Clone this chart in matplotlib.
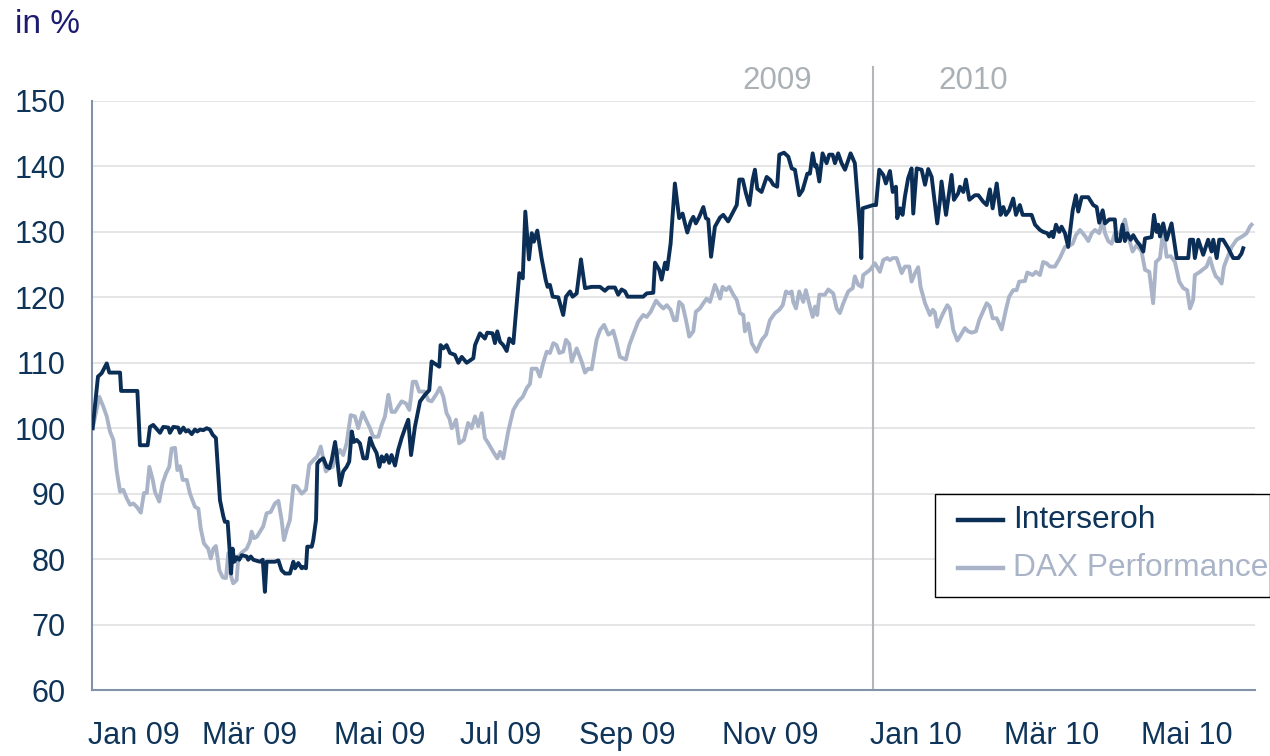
import matplotlib
matplotlib.use("Agg")
import matplotlib.pyplot as plt
from matplotlib.patches import Rectangle

plt.rcParams['font.family'] = ['Liberation Sans', 'DejaVu Sans']

# x = days since 1 Jan 2009, y = indexed performance in %
inter_days = [0.3, 2.8, 4.5, 6.9, 8.1, 13.1, 13.6, 21.2, 22.4, 26.0, 27.1, 28.6, 31.8, 33.3,
              35.7, 36.4, 38.0, 40.3, 41.1, 42.7, 43.9, 45.0, 46.6, 48.1, 49.2, 50.5, 52.0,
              53.6, 55.1, 56.4, 57.9, 59.8, 61.4, 62.1, 63.4, 64.2, 65.0, 65.7, 66.5, 67.6,
              68.8, 70.0, 72.3, 73.0, 74.2, 75.4, 78.5, 79.8, 80.8, 81.6, 85.5, 87.1, 88.6,
              90.2, 92.5, 94.1, 94.9, 96.4, 98.0, 98.7, 100.0, 100.6, 102.7, 103.4, 104.7,
              105.3, 106.5, 108.1, 109.7, 110.9, 112.0, 113.6, 114.3, 115.9, 117.4, 119.0,
              120.2, 121.4, 122.4, 123.7, 125.2, 126.8, 128.4, 129.9, 131.4, 133.0, 134.3,
              135.4, 136.4, 137.7, 138.9, 140.0, 141.6, 143.1, 144.7, 146.3, 147.8, 149.1,
              150.9, 153.3, 155.6, 157.6, 158.7, 162.3, 162.9, 164.2, 165.7, 167.3, 169.6,
              171.2, 172.8, 175.1, 178.2, 179.0, 181.3, 183.6, 184.7, 187.2, 188.3, 189.4,
              190.7, 192.2, 193.8, 195.0, 196.9, 199.7, 201.3, 202.5, 204.2, 205.5, 206.5,
              208.1, 210.1, 212.0, 212.9, 214.0, 215.3, 217.9, 220.2, 221.5, 223.4, 224.6,
              226.5, 228.5, 230.4, 233.5, 237.4, 239.7, 241.3, 244.4, 245.9, 247.5, 249.1,
              250.3, 257.6, 259.2, 262.3, 263.1, 265.1, 266.2, 267.8, 268.8, 270.4, 271.4,
              272.4, 274.4, 276.0, 277.1, 278.2, 279.8, 281.0, 282.2, 283.8, 285.7, 286.9,
              288.0, 289.3, 291.1, 293.5, 295.0, 297.3, 299.7, 301.3, 302.5, 304.1, 305.6,
              307.2, 308.7, 309.8, 310.9, 312.9, 315.3, 317.1, 318.4, 320.2, 321.2, 323.4,
              325.4, 327.0, 328.5, 330.5, 332.1, 334.3, 335.5, 336.8, 337.9, 338.6, 339.9,
              341.4, 343.3, 344.5, 346.1, 347.2, 348.7, 350.3, 351.9, 354.5, 356.5, 358.9,
              359.5, 360.1, 365.1, 366.4, 367.9, 369.8, 371.0, 372.9, 374.2, 375.7, 376.3,
              377.6, 378.8, 379.9, 381.4, 383.0, 383.8, 385.4, 387.7, 389.3, 390.8, 392.4,
              395.0, 396.3, 397.0, 399.1, 401.7, 402.8, 404.8, 405.6, 407.2, 408.4, 410.0,
              412.6, 414.2, 416.5, 418.1, 419.6, 420.9, 422.8, 424.6, 425.9, 427.1, 428.6,
              430.5, 431.8, 433.6, 434.9, 439.1, 440.7, 443.0, 444.5, 446.4, 447.3, 448.5,
              449.2, 450.5, 452.0, 453.1, 454.7, 456.2, 458.3, 459.8, 460.9, 462.5, 465.6,
              467.9, 469.5, 470.7, 472.3, 473.4, 475.4, 478.0, 478.8, 480.4, 481.6, 482.7,
              483.8, 485.4, 486.6, 488.2, 489.7, 491.3, 492.1, 495.2, 496.3, 497.5, 498.3,
              499.1, 500.6, 502.2, 504.5, 506.9, 512.3, 513.1, 514.6, 515.4, 517.0, 519.3,
              521.6, 523.2, 524.0, 525.6, 526.8, 528.6, 531.0, 533.3, 535.7, 537.2, 538.0]
inter_vals = [100.0, 107.9, 108.4, 109.9, 108.5, 108.5, 105.7, 105.7, 97.4, 97.4, 100.2, 100.5,
              99.3, 100.2, 100.1, 99.3, 100.2, 100.1, 99.3, 100.1, 99.5, 99.7, 99.1, 99.8, 99.5,
              99.8, 99.7, 100.0, 99.8, 99.0, 98.5, 89.0, 86.5, 85.7, 85.7, 81.9, 77.8, 81.6,
              79.6, 80.3, 79.9, 80.6, 80.4, 79.9, 80.4, 79.9, 79.6, 79.9, 75.0, 79.6, 79.6,
              79.8, 78.3, 77.8, 77.8, 79.6, 78.6, 79.4, 78.6, 78.8, 78.6, 81.9, 81.9, 82.9,
              86.0, 94.6, 95.1, 95.4, 94.1, 93.9, 95.1, 97.9, 96.2, 91.3, 93.4, 94.1, 94.9,
              99.5, 97.9, 98.2, 97.7, 95.4, 95.4, 98.5, 97.2, 96.2, 94.1, 95.7, 94.9, 95.9,
              94.7, 95.9, 94.3, 96.7, 98.5, 100.0, 101.3, 95.9, 100.2, 104.1, 105.1, 105.8,
              110.2, 109.4, 112.7, 112.2, 112.7, 111.5, 111.2, 110.0, 110.9, 110.0, 110.7,
              112.7, 114.5, 113.7, 114.6, 114.5, 113.0, 114.8, 113.2, 112.7, 111.8, 113.7,
              113.0, 123.7, 122.9, 133.1, 125.8, 129.8, 128.5, 130.2, 126.0, 122.7, 121.6,
              121.9, 120.1, 120.0, 117.3, 120.1, 120.9, 120.1, 120.6, 125.8, 121.4, 121.6,
              121.6, 121.0, 121.5, 121.5, 120.4, 121.2, 120.9, 120.1, 120.1, 120.6, 120.7,
              125.3, 124.2, 122.7, 125.3, 124.3, 128.2, 132.8, 137.4, 132.1, 132.8, 131.3,
              129.9, 131.6, 132.3, 131.3, 132.3, 133.8, 132.1, 131.9, 126.2, 130.8, 132.2,
              132.6, 131.6, 133.1, 134.1, 138.0, 138.0, 135.9, 134.1, 137.9, 139.5, 136.6,
              136.1, 138.4, 137.9, 137.2, 136.9, 141.8, 142.1, 141.5, 139.7, 139.5, 135.6,
              136.4, 138.9, 138.9, 142.0, 140.0, 140.2, 137.7, 142.0, 140.5, 141.8, 141.8,
              140.5, 142.0, 140.5, 139.5, 142.0, 140.5, 130.5, 126.0, 133.6, 134.1, 134.1,
              139.5, 138.7, 137.4, 139.3, 136.1, 136.9, 132.1, 133.6, 132.6, 135.4, 138.2,
              139.7, 132.8, 139.7, 139.5, 137.2, 139.6, 138.4, 131.3, 134.9, 137.7, 132.6,
              138.7, 134.9, 135.9, 136.9, 136.1, 138.0, 134.9, 135.6, 135.6, 134.6, 134.1,
              136.5, 133.6, 137.4, 132.6, 133.8, 132.6, 133.3, 135.1, 132.6, 134.1, 132.6,
              132.6, 131.1, 130.3, 130.0, 129.8, 129.3, 130.0, 129.2, 131.1, 130.0, 130.8,
              129.8, 127.7, 133.3, 135.6, 133.1, 135.3, 135.3, 134.1, 133.8, 131.4, 133.3,
              131.3, 131.9, 131.9, 128.6, 128.6, 131.1, 128.6, 129.8, 128.8, 129.5, 128.6,
              128.0, 127.0, 129.0, 129.2, 132.6, 130.0, 131.1, 129.3, 131.3, 128.8, 131.3,
              126.0, 126.0, 128.8, 128.8, 126.0, 128.8, 126.5, 128.8, 127.0, 128.8, 126.0,
              128.8, 128.8, 127.5, 126.0, 126.0, 126.7, 127.5]

dax_days = [0.3, 3.4, 5.3, 6.9, 8.4, 10.0, 11.5, 13.1, 14.6, 16.2, 17.8, 19.3, 20.9, 22.8,
            24.3, 25.6, 26.8, 28.4, 29.4, 31.4, 33.0, 34.6, 36.1, 37.2, 38.8, 39.9, 41.1,
            42.4, 44.3, 45.8, 48.1, 49.7, 50.8, 52.3, 54.3, 55.5, 56.7, 57.9, 59.5, 61.1,
            62.6, 63.7, 64.8, 66.0, 67.6, 68.4, 70.0, 72.3, 73.8, 74.6, 75.7, 77.0, 78.5,
            80.0, 81.6, 83.5, 85.5, 87.1, 88.6, 89.7, 91.0, 92.5, 94.1, 95.7, 98.0, 100.0,
            101.5, 103.4, 105.3, 106.9, 108.1, 109.3, 110.9, 112.5, 114.0, 115.9, 117.4,
            119.0, 120.9, 122.9, 124.4, 126.5, 128.0, 129.9, 131.4, 133.8, 135.4, 136.9,
            138.5, 140.0, 141.6, 143.1, 144.7, 146.7, 148.3, 149.9, 151.4, 152.9, 155.6,
            157.1, 158.7, 161.1, 162.6, 164.2, 165.7, 167.0, 168.1, 169.2, 170.1, 171.6,
            173.8, 175.8, 177.4, 179.0, 180.5, 182.1, 183.6, 185.2, 187.5, 189.4, 190.7,
            192.2, 194.5, 196.9, 199.2, 201.3, 203.1, 204.7, 205.5, 207.8, 209.3, 210.9,
            212.5, 214.0, 215.6, 217.1, 218.4, 220.2, 221.5, 223.0, 224.2, 226.5, 228.8,
            230.4, 231.9, 233.5, 235.8, 237.4, 239.3, 241.3, 242.4, 243.6, 245.2, 246.7,
            249.5, 251.1, 252.9, 255.3, 257.6, 259.2, 261.1, 263.6, 265.4, 267.0, 268.6,
            270.4, 272.0, 273.2, 274.4, 276.0, 277.6, 279.1, 281.0, 282.2, 284.1, 285.7,
            287.2, 288.8, 291.1, 292.2, 293.5, 294.7, 296.3, 297.8, 299.7, 301.3, 302.8,
            304.4, 305.1, 306.7, 308.3, 310.6, 313.0, 315.0, 316.8, 319.2, 321.2, 322.8,
            324.3, 325.8, 327.0, 327.7, 329.0, 330.5, 332.4, 333.6, 335.5, 336.8, 337.9,
            338.9, 339.9, 342.5, 344.1, 346.4, 348.0, 349.5, 351.1, 353.4, 355.5, 356.5,
            358.1, 359.7, 360.4, 363.6, 365.9, 368.2, 369.8, 371.6, 372.9, 374.2, 376.0,
            378.4, 379.9, 381.9, 383.0, 384.6, 386.1, 387.2, 389.3, 391.6, 392.9, 393.9,
            395.0, 396.3, 397.8, 399.7, 400.9, 402.5, 404.4, 405.6, 407.9, 409.5, 411.1,
            413.1, 414.6, 416.2, 418.1, 419.6, 420.9, 422.8, 425.1, 427.1, 428.6, 430.5,
            432.1, 433.3, 436.0, 437.1, 439.6, 441.1, 443.0, 444.5, 446.1, 447.7, 450.0,
            452.3, 454.7, 456.2, 458.3, 459.8, 461.7, 464.0, 465.6, 467.2, 468.7, 470.7,
            472.3, 473.4, 474.9, 476.5, 478.0, 480.4, 482.7, 484.7, 486.3, 488.2, 490.5,
            492.1, 494.1, 495.9, 497.2, 499.1, 500.6, 502.2, 504.1, 506.1, 508.1, 510.0,
            511.8, 513.1, 514.6, 515.4, 517.8, 519.3, 520.9, 522.4, 524.0, 525.2, 526.3,
            527.9, 529.0, 530.5, 532.6, 534.9, 538.0, 539.6, 541.1, 541.9]
dax_vals = [100.0, 104.8, 103.3, 101.8, 99.5, 98.2, 93.6, 90.3, 90.6, 89.3, 88.3, 88.5, 88.0,
            87.1, 90.1, 90.1, 94.1, 92.1, 90.3, 88.8, 91.6, 93.1, 94.1, 96.9, 97.0, 93.6,
            94.2, 92.1, 92.1, 90.0, 88.0, 87.7, 84.7, 82.4, 81.6, 80.1, 81.6, 82.0, 78.3,
            77.2, 77.1, 80.9, 77.6, 76.3, 76.8, 80.4, 81.0, 81.6, 82.7, 84.2, 83.2, 83.4,
            84.2, 85.0, 87.0, 87.2, 88.5, 88.9, 86.0, 82.9, 84.5, 86.0, 91.2, 91.1, 90.0,
            90.6, 94.4, 95.1, 95.7, 97.2, 95.3, 93.4, 93.9, 94.1, 95.7, 96.7, 95.9, 97.7,
            102.0, 101.8, 100.0, 102.4, 101.3, 100.0, 98.7, 98.7, 100.5, 101.8, 105.1,
            102.5, 102.5, 103.3, 104.1, 103.8, 102.8, 107.1, 107.1, 105.6, 105.6, 104.3,
            104.1, 105.3, 106.2, 104.8, 102.3, 101.5, 100.0, 100.5, 101.3, 97.7, 98.2,
            100.8, 100.0, 101.8, 100.3, 102.3, 98.5, 97.7, 96.4, 95.4, 96.4, 95.4, 99.5,
            102.8, 104.1, 104.8, 106.1, 106.8, 109.1, 109.1, 107.9, 110.0, 111.7, 111.5,
            113.0, 112.7, 111.5, 111.7, 113.5, 112.9, 110.2, 112.2, 110.2, 108.5, 109.1,
            109.0, 113.5, 115.0, 115.8, 114.3, 114.5, 114.9, 113.0, 110.9, 110.5, 112.7,
            114.3, 116.3, 117.3, 117.0, 117.8, 119.5, 118.8, 118.3, 118.8, 118.1, 116.5,
            116.5, 119.3, 118.8, 116.5, 114.0, 114.8, 117.8, 118.3, 119.1, 119.8, 119.3,
            121.9, 121.1, 119.8, 121.6, 121.1, 121.6, 120.4, 119.6, 117.6, 117.3, 114.8,
            116.0, 113.0, 111.7, 113.5, 114.3, 116.5, 117.6, 118.1, 118.8, 120.9, 120.6,
            120.9, 119.3, 118.3, 120.9, 119.3, 121.1, 118.6, 117.0, 118.6, 117.3, 120.4,
            120.4, 121.2, 120.6, 118.3, 117.6, 119.1, 120.9, 121.4, 123.2, 121.9, 121.6,
            123.4, 124.2, 125.2, 123.9, 125.7, 126.0, 125.7, 126.0, 126.0, 123.7, 124.7,
            124.7, 122.4, 123.7, 124.6, 121.6, 119.1, 117.3, 118.1, 117.7, 115.5, 116.5,
            117.6, 118.8, 118.3, 115.0, 113.4, 114.0, 115.3, 114.8, 114.6, 114.8, 116.5,
            117.7, 119.1, 118.6, 116.8, 116.8, 115.1, 118.1, 120.1, 121.1, 121.1, 122.4,
            122.5, 123.8, 123.4, 123.9, 123.4, 125.4, 125.2, 124.7, 124.7, 126.0, 127.7,
            127.8, 128.2, 129.5, 130.3, 129.4, 128.6, 129.8, 130.3, 129.8, 131.8, 129.8,
            128.6, 128.2, 129.8, 129.8, 131.9, 128.8, 127.0, 128.0, 127.0, 124.2, 123.9,
            119.1, 125.4, 126.0, 130.3, 126.2, 126.3, 125.4, 122.4, 121.4, 121.1, 118.3,
            119.6, 123.4, 123.9, 124.3, 124.7, 126.0, 124.2, 123.2, 122.9, 122.1, 124.7,
            126.0, 127.7, 128.8, 129.4, 129.8, 130.8, 131.1]

tick_days = [19.5, 73.8, 134.4, 191.1, 250.0, 317.2, 384.9, 448.4, 511.7]
tick_labels = ['Jan 09', 'Mär 09', 'Mai 09', 'Jul 09', 'Sep 09', 'Nov 09', 'Jan 10', 'Mär 10', 'Mai 10']
y_ticks = [60, 70, 80, 90, 100, 110, 120, 130, 140, 150]
year_break = 365
year_labels = ['2009', '2010']
year_label_days = [320.0, 411.7]
series_names = ['Interseroh', 'DAX Performance']

DARK = '#0b2e56'
LIGHT = '#a9b4c8'
TXT = '#0e3459'
GRID = '#e5e5e5'
SPINE = '#8292a8'

fig = plt.figure(figsize=(12.7, 7.56), dpi=100)
ax = fig.add_axes([92/1270, 66/756, 1163/1270, 589/756])

ax.plot(dax_days, dax_vals, color=LIGHT, lw=2.8, solid_joinstyle='round', zorder=3)
ax.plot(inter_days, inter_vals, color=DARK, lw=2.8, solid_joinstyle='round', zorder=4)

ax.set_xlim(0, 543.5)
ax.set_ylim(60, 150)
ax.set_yticks(y_ticks)
for v in y_ticks[1:]:
    ax.axhline(v, color=GRID, lw=1.4, zorder=1)

ax.set_xticks(tick_days, tick_labels)
ax.tick_params(axis='x', length=0, pad=22, labelsize=22, labelcolor=TXT)
ax.tick_params(axis='y', length=0, pad=19, labelsize=22, labelcolor=TXT)

for s in ['top', 'right']:
    ax.spines[s].set_visible(False)
for s in ['left', 'bottom']:
    ax.spines[s].set_color(SPINE)
    ax.spines[s].set_linewidth(1.5)

# year divider
ax.axvline(year_break, ymin=0, ymax=1.058, color='#b3b7bb', lw=1.5, clip_on=False, zorder=2)
for lab, d in zip(year_labels, year_label_days):
    ax.text(d, 153.0, lab, ha='center', va='center', fontsize=22.5, color='#aab1b6')

# legend (manual box)
ax.add_patch(Rectangle((0.7249, 0.1579), 0.288, 0.1749, transform=ax.transAxes,
                       facecolor='white', edgecolor='black', lw=1.0, clip_on=False, zorder=5))
for name, col, yy in zip(series_names, [DARK, LIGHT], [0.2886, 0.2071]):
    ax.plot([0.7446, 0.7833], [yy, yy], transform=ax.transAxes, color=col, lw=3.2,
            clip_on=False, zorder=6)
    ax.text(0.7919, yy, name, transform=ax.transAxes, ha='left', va='center',
            fontsize=22.8, color=col if col == LIGHT else TXT, zorder=6, clip_on=False)

fig.text(15/1270, 1 - 33/756, 'in %', ha='left', va='baseline', fontsize=24, color='#1b1b6f')

fig.savefig('out.png', dpi=100)
